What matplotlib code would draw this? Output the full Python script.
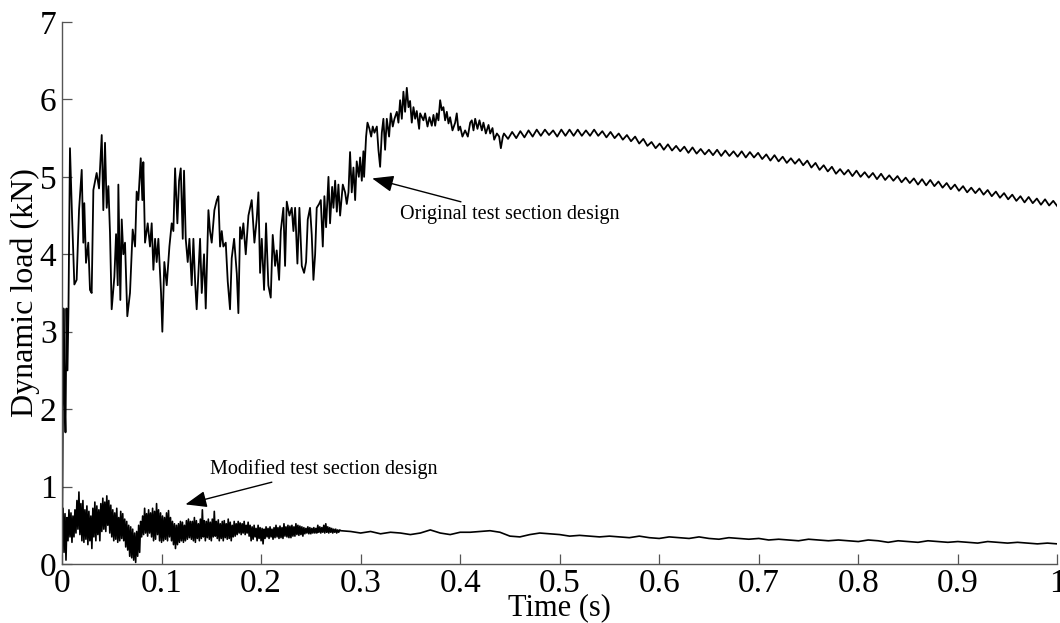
import numpy as np
import matplotlib
matplotlib.use("Agg")
import matplotlib.pyplot as plt

plt.rcParams['font.family'] = ['Liberation Serif', 'DejaVu Serif']

# ---------------- data ----------------
# Original design: noisy part, explicit (time, load) samples
orig_t_noisy = [0.000, 0.0015, 0.0025, 0.0035, 0.0045, 0.0055, 0.0065, 0.0080,
    0.0101, 0.0124, 0.0147, 0.0171, 0.0198, 0.0214, 0.0224, 0.0241, 0.0264, 0.0281,
    0.0298, 0.0315, 0.0348, 0.0372, 0.0399, 0.0415, 0.0432, 0.0449, 0.0466, 0.0482,
    0.0499, 0.0526, 0.0543, 0.0560, 0.0566, 0.0586, 0.0600, 0.0616, 0.0633, 0.0656,
    0.0683, 0.0710, 0.0734, 0.0750, 0.0767, 0.0791, 0.0807, 0.0817, 0.0834, 0.0861,
    0.0884, 0.0901, 0.0918, 0.0935, 0.0951, 0.0968, 0.0995, 0.1008, 0.1028, 0.1052,
    0.1079, 0.1102, 0.1119, 0.1136, 0.1159, 0.1176, 0.1193, 0.1213, 0.1226, 0.1243,
    0.1263, 0.1280, 0.1303, 0.1320, 0.1337, 0.1353, 0.1370, 0.1387, 0.1404, 0.1427,
    0.1444, 0.1471, 0.1487, 0.1504, 0.1531, 0.1555, 0.1571, 0.1588, 0.1605, 0.1621,
    0.1645, 0.1665, 0.1688, 0.1705, 0.1729, 0.1756, 0.1772, 0.1789, 0.1806, 0.1822,
    0.1846, 0.1873, 0.1906, 0.1933, 0.1956, 0.1973, 0.1990, 0.2007, 0.2030, 0.2050,
    0.2073, 0.2097, 0.2117, 0.2141, 0.2157, 0.2181, 0.2198, 0.2224, 0.2241, 0.2258,
    0.2285, 0.2308, 0.2325, 0.2342, 0.2365, 0.2385, 0.2409, 0.2432, 0.2452, 0.2469,
    0.2492, 0.2509, 0.2526, 0.2543, 0.2559, 0.2583, 0.2600, 0.2620, 0.2636, 0.2653,
    0.2677, 0.2693, 0.2714, 0.2727, 0.2744, 0.2761, 0.2777, 0.2794, 0.2821, 0.2844,
    0.2861, 0.2878, 0.2894, 0.2911, 0.2928, 0.2945, 0.2961, 0.2982, 0.2995, 0.3012,
    0.3028, 0.3035, 0.3055, 0.3069, 0.3089, 0.3106, 0.3122, 0.3139, 0.3163, 0.3179,
    0.3196, 0.3213, 0.3229, 0.3246, 0.3263, 0.3286, 0.3303, 0.3323, 0.3340, 0.3364,
    0.3380, 0.3397, 0.3414, 0.3430, 0.3447, 0.3464, 0.3481, 0.3497, 0.3514, 0.3531,
    0.3548, 0.3564, 0.3588, 0.3598, 0.3631, 0.3648, 0.3672, 0.3692, 0.3715, 0.3732,
    0.3749, 0.3766, 0.3782, 0.3799, 0.3816, 0.3832, 0.3849, 0.3866, 0.3883, 0.3899,
    0.3923, 0.3950, 0.3966, 0.3983, 0.4000, 0.4023, 0.4050, 0.4077, 0.4101, 0.4117,
    0.4134, 0.4151, 0.4174, 0.4194, 0.4218, 0.4234, 0.4258, 0.4285, 0.4302, 0.4325,
    0.4342, 0.4369, 0.4392, 0.4409, 0.4429]
orig_v_noisy = [0.00, 3.30, 2.20, 1.70, 3.30, 2.50, 3.30, 5.37,
    4.48, 3.61, 3.67, 4.57, 5.09, 4.15, 4.66, 3.89, 4.15, 3.54,
    3.50, 4.83, 5.05, 4.85, 5.54, 4.57, 5.44, 4.60, 4.88, 4.28,
    3.29, 3.71, 4.26, 3.60, 4.90, 3.41, 4.45, 4.00, 4.15, 3.20,
    3.50, 4.32, 4.10, 4.81, 4.70, 5.24, 4.70, 5.19, 4.15, 4.40,
    4.10, 4.40, 3.80, 4.20, 3.90, 4.20, 3.50, 3.00, 3.90, 3.60,
    4.10, 4.40, 4.30, 5.11, 4.40, 4.95, 5.11, 4.20, 5.08, 4.20,
    3.90, 4.20, 3.60, 4.20, 3.65, 3.29, 3.75, 4.20, 3.50, 4.00,
    3.30, 4.57, 4.30, 4.15, 4.57, 4.70, 4.75, 4.10, 4.30, 4.10,
    4.15, 3.65, 3.29, 3.95, 4.20, 3.75, 3.24, 4.35, 4.20, 4.40,
    4.00, 4.50, 4.70, 4.15, 4.45, 4.80, 3.76, 4.20, 3.54, 4.40,
    3.60, 3.44, 4.25, 3.85, 4.05, 3.67, 4.30, 4.60, 3.85, 4.68,
    4.50, 4.60, 4.30, 4.60, 3.88, 4.60, 3.85, 3.76, 3.90, 4.45,
    4.60, 4.25, 3.67, 4.00, 4.60, 4.65, 4.70, 4.10, 4.75, 4.35,
    5.00, 4.40, 4.87, 4.60, 4.95, 4.55, 4.90, 4.50, 4.90, 4.80,
    4.65, 4.80, 5.32, 4.80, 5.12, 4.70, 5.20, 5.00, 5.25, 4.95,
    5.33, 5.00, 5.52, 5.70, 5.62, 5.52, 5.65, 5.57, 5.65, 5.35,
    5.13, 5.57, 5.75, 5.35, 5.75, 5.52, 5.82, 5.65, 5.75, 5.84,
    5.70, 5.99, 5.75, 6.10, 5.84, 6.15, 5.90, 5.98, 5.70, 5.90,
    5.75, 5.85, 5.62, 5.82, 5.73, 5.82, 5.65, 5.77, 5.66, 5.80,
    5.66, 5.82, 5.73, 5.99, 5.86, 5.90, 5.73, 5.84, 5.69, 5.77,
    5.60, 5.70, 5.82, 5.60, 5.65, 5.52, 5.60, 5.52, 5.70, 5.73,
    5.60, 5.75, 5.62, 5.73, 5.60, 5.70, 5.56, 5.67, 5.56, 5.63,
    5.48, 5.56, 5.52, 5.37, 5.52]

# Original design: regular ripple part, samples evenly spaced from 0.444 s to 1 s
orig_ripple_start = 0.444
orig_v_ripple = [5.56, 5.49, 5.58, 5.50, 5.59, 5.51, 5.60, 5.52, 5.61, 5.53,
    5.61, 5.54, 5.60, 5.52, 5.61, 5.53, 5.61, 5.53, 5.61, 5.53,
    5.60, 5.53, 5.61, 5.53, 5.59, 5.51, 5.58, 5.50, 5.56, 5.48,
    5.54, 5.46, 5.52, 5.43, 5.49, 5.40, 5.45, 5.37, 5.43, 5.35,
    5.42, 5.34, 5.40, 5.33, 5.39, 5.31, 5.38, 5.30, 5.36, 5.29,
    5.35, 5.28, 5.35, 5.27, 5.34, 5.27, 5.33, 5.26, 5.33, 5.25,
    5.32, 5.25, 5.31, 5.23, 5.29, 5.21, 5.28, 5.20, 5.26, 5.18,
    5.24, 5.17, 5.23, 5.15, 5.21, 5.12, 5.18, 5.09, 5.15, 5.07,
    5.13, 5.04, 5.10, 5.03, 5.09, 5.01, 5.08, 5.00, 5.06, 4.99,
    5.05, 4.97, 5.04, 4.96, 5.02, 4.95, 5.01, 4.93, 4.99, 4.92,
    4.98, 4.90, 4.97, 4.89, 4.96, 4.88, 4.94, 4.86, 4.92, 4.84,
    4.90, 4.82, 4.88, 4.80, 4.86, 4.79, 4.85, 4.77, 4.83, 4.75,
    4.81, 4.73, 4.79, 4.71, 4.77, 4.69, 4.75, 4.67, 4.74, 4.66,
    4.72, 4.64, 4.71, 4.63, 4.69, 4.62]

# Modified design: noisy part, samples every 0.001 s from 0 to 0.28 s
mod_noisy_end = 0.280
mod_v_noisy = [
    0.30, 0.72, 0.15, 0.65, 0.05, 0.60, 0.30, 0.70, 0.35, 0.66,
    0.28, 0.62, 0.35, 0.70, 0.40, 0.82, 0.45, 0.93, 0.38, 0.78,
    0.30, 0.82, 0.28, 0.70, 0.32, 0.75, 0.25, 0.68, 0.30, 0.62,
    0.20, 0.72, 0.35, 0.80, 0.30, 0.75, 0.38, 0.70, 0.30, 0.78,
    0.42, 0.85, 0.45, 0.80, 0.42, 0.88, 0.50, 0.82, 0.40, 0.76,
    0.35, 0.70, 0.30, 0.66, 0.32, 0.72, 0.28, 0.60, 0.30, 0.68,
    0.33, 0.65, 0.30, 0.58, 0.22, 0.55, 0.18, 0.50, 0.10, 0.48,
    0.08, 0.45, 0.05, 0.40, 0.02, 0.42, 0.10, 0.50, 0.15, 0.55,
    0.35, 0.62, 0.38, 0.72, 0.40, 0.65, 0.36, 0.70, 0.40, 0.66,
    0.35, 0.72, 0.30, 0.68, 0.32, 0.78, 0.38, 0.70, 0.30, 0.66,
    0.28, 0.62, 0.30, 0.60, 0.32, 0.66, 0.30, 0.69, 0.35, 0.60,
    0.30, 0.55, 0.25, 0.52, 0.20, 0.50, 0.25, 0.52, 0.28, 0.55,
    0.30, 0.54, 0.28, 0.50, 0.30, 0.56, 0.32, 0.58, 0.34, 0.55,
    0.32, 0.55, 0.30, 0.60, 0.28, 0.56, 0.33, 0.52, 0.30, 0.58,
    0.33, 0.70, 0.35, 0.56, 0.30, 0.55, 0.34, 0.58, 0.32, 0.54,
    0.30, 0.58, 0.35, 0.68, 0.36, 0.55, 0.33, 0.57, 0.30, 0.52,
    0.33, 0.55, 0.30, 0.56, 0.34, 0.52, 0.32, 0.58, 0.33, 0.54,
    0.30, 0.50, 0.35, 0.55, 0.36, 0.52, 0.38, 0.55, 0.40, 0.53,
    0.38, 0.52, 0.40, 0.55, 0.38, 0.50, 0.40, 0.54, 0.36, 0.50,
    0.30, 0.48, 0.32, 0.50, 0.35, 0.46, 0.30, 0.50, 0.33, 0.47,
    0.30, 0.46, 0.26, 0.45, 0.33, 0.48, 0.35, 0.46, 0.33, 0.48,
    0.35, 0.45, 0.32, 0.47, 0.34, 0.50, 0.35, 0.47, 0.33, 0.49,
    0.34, 0.47, 0.33, 0.52, 0.36, 0.48, 0.35, 0.50, 0.34, 0.49,
    0.34, 0.50, 0.36, 0.48, 0.36, 0.52, 0.38, 0.50, 0.37, 0.49,
    0.38, 0.48, 0.36, 0.47, 0.39, 0.46, 0.40, 0.48, 0.39, 0.47,
    0.39, 0.46, 0.40, 0.47, 0.40, 0.46, 0.40, 0.50, 0.41, 0.48,
    0.40, 0.47, 0.41, 0.50, 0.40, 0.52, 0.41, 0.48, 0.40, 0.47,
    0.41, 0.46, 0.40, 0.45, 0.41, 0.45, 0.40, 0.44, 0.41, 0.44,
    0.43]

# Modified design: smooth part, samples every 0.01 s from 0.29 s to 1 s
mod_smooth_start = 0.29
mod_v_smooth = [0.42, 0.40, 0.42, 0.39, 0.41, 0.40, 0.38, 0.40, 0.44, 0.40,
    0.38, 0.41, 0.41, 0.42, 0.43, 0.41, 0.36, 0.35, 0.38, 0.40,
    0.39, 0.38, 0.36, 0.37, 0.36, 0.35, 0.36, 0.35, 0.34, 0.36,
    0.34, 0.33, 0.35, 0.34, 0.33, 0.35, 0.33, 0.32, 0.34, 0.33,
    0.32, 0.33, 0.31, 0.32, 0.31, 0.30, 0.32, 0.31, 0.30, 0.31,
    0.30, 0.29, 0.31, 0.30, 0.28, 0.30, 0.29, 0.28, 0.30, 0.29,
    0.28, 0.29, 0.28, 0.27, 0.29, 0.28, 0.27, 0.28, 0.27, 0.26,
    0.27, 0.26]

x_ticks = [0, 0.1, 0.2, 0.3, 0.4, 0.5, 0.6, 0.7, 0.8, 0.9, 1]
x_tick_labels = ['0', '0.1', '0.2', '0.3', '0.4', '0.5', '0.6', '0.7', '0.8', '0.9', '1']
y_ticks = [0, 1, 2, 3, 4, 5, 6, 7]

label_orig = 'Original test section design'
label_mod = 'Modified test section design'

# ---------------- build series ----------------
orig_t = np.concatenate([orig_t_noisy,
                         np.linspace(orig_ripple_start, 1.0, len(orig_v_ripple))])
orig_v = np.concatenate([orig_v_noisy, orig_v_ripple])
mod_t = np.concatenate([np.linspace(0, mod_noisy_end, len(mod_v_noisy)),
                        np.linspace(mod_smooth_start, 1.0, len(mod_v_smooth))])
mod_v = np.concatenate([mod_v_noisy, mod_v_smooth])

# ---------------- plot ----------------
fig = plt.figure(figsize=(10.6, 6.23), dpi=100)
ax = fig.add_axes([0.0585, 0.0947, 0.939, 0.870])

ax.plot(orig_t, orig_v, color='black', lw=1.3)
ax.plot(mod_t, mod_v, color='black', lw=1.2)

ax.set_xlim(0, 1)
ax.set_ylim(0, 7)
ax.set_xticks(x_ticks)
ax.set_xticklabels(x_tick_labels)
ax.set_yticks(y_ticks)

for s in ['top', 'right']:
    ax.spines[s].set_visible(False)
for s in ['left', 'bottom']:
    ax.spines[s].set_color('#555555')
    ax.spines[s].set_linewidth(1.0)

ax.tick_params(direction='in', length=7, width=0.9, color='#555555',
               labelsize=24)
ax.tick_params(axis='x', pad=3)
ax.tick_params(axis='y', pad=4)
ax.set_xlabel('Time (s)', fontsize=22, labelpad=-4)
ax.set_ylabel('Dynamic load (kN)', fontsize=23, labelpad=0)

ax.annotate(label_orig, xy=(0.3116, 4.98), xytext=(0.340, 4.51),
            fontsize=14.5, va='center', ha='left',
            arrowprops=dict(arrowstyle='-|>,head_length=0.9,head_width=0.35',
                            color='black', lw=1.0, shrinkA=2, shrinkB=0))
ax.annotate(label_mod, xy=(0.124, 0.77), xytext=(0.149, 1.23),
            fontsize=14.5, va='center', ha='left',
            arrowprops=dict(arrowstyle='-|>,head_length=0.9,head_width=0.35',
                            color='black', lw=1.0, shrinkA=2, shrinkB=0))

fig.savefig('out.png', dpi=100)
